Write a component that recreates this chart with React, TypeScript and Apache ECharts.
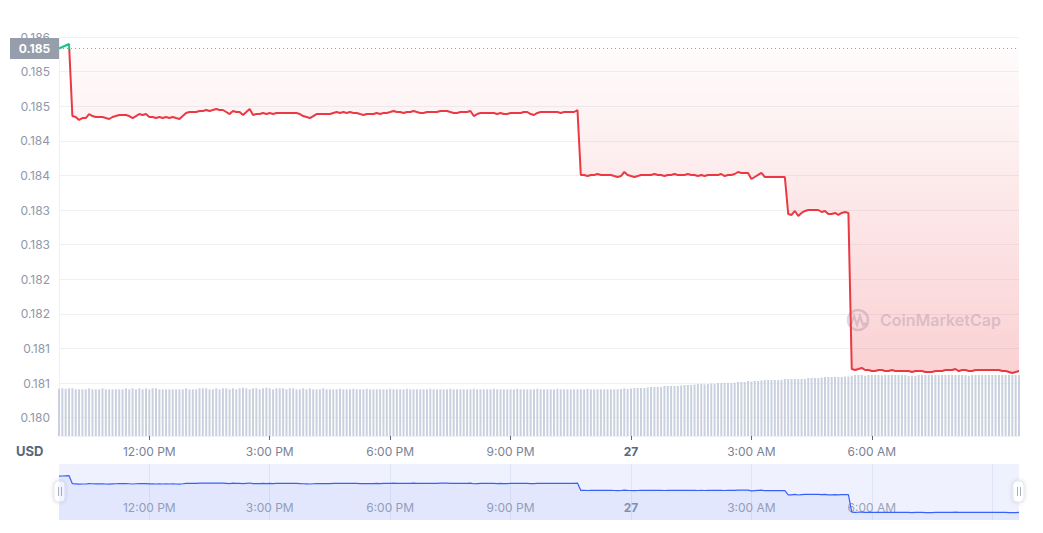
import React, { useEffect, useRef } from "react";
import * as echarts from "echarts";

// ---- time categories (5-minute steps, 24h window starting 9:45 AM) ----
const START_MINUTES = 9 * 60 + 45;
const STEP_MINUTES = 5;
const POINT_COUNT = 288;
const categories: string[] = [];
for (let i = 0; i < POINT_COUNT; i++) {
  const m = (START_MINUTES + i * STEP_MINUTES) % (24 * 60);
  const h24 = Math.floor(m / 60);
  const mm = m % 60;
  const ap = h24 < 12 ? "AM" : "PM";
  const h12 = h24 % 12 === 0 ? 12 : h24 % 12;
  categories.push(`${h12}:${String(mm).padStart(2, "0")} ${ap}`);
}

// ---- x tick labels ----
const xTickIndex = [27, 63, 99, 135, 171, 207, 243];
const xTickLabels = ["12:00 PM", "3:00 PM", "6:00 PM", "9:00 PM", "27", "3:00 AM", "6:00 AM"];
const miniSplitIndex = [27, 63, 99, 135, 171, 207, 243, 279];

// ---- y tick labels ----
const yTickValues = [0.1805, 0.181, 0.1815, 0.182, 0.1825, 0.183, 0.1835, 0.184, 0.1845, 0.185, 0.1855, 0.186];
const yTickLabels = ["0.180", "0.181", "0.181", "0.182", "0.182", "0.183", "0.183", "0.184", "0.184", "0.185", "0.185", "0.186"];

const OPEN_PRICE = 0.185834;
const OPEN_LABEL = "0.185";

// ---- price (USD), 288 points ----
const pricesStart = [0.185834, 0.185855, 0.185877, 0.185899];
const pricesSegA = [
  0.184858, 0.184844, 0.184801, 0.184829, 0.184829, 0.184887, 0.184858, 0.184844, 0.184844, 0.184844,
  0.184829, 0.184815, 0.184844, 0.184858, 0.184873, 0.184873, 0.184873, 0.184858, 0.184829, 0.184858,
  0.184887, 0.184873, 0.184887, 0.184844, 0.184844, 0.184829, 0.184844, 0.184829, 0.184844, 0.184829,
  0.184844, 0.184829, 0.184815, 0.184858, 0.184902, 0.184916, 0.184916, 0.184916, 0.184931, 0.184931,
  0.184945, 0.184931, 0.184945, 0.18496, 0.184945, 0.184945, 0.184916, 0.184887, 0.184931, 0.184916,
  0.184916, 0.184873, 0.184916, 0.18496, 0.184873, 0.184887, 0.184887, 0.184902, 0.184887, 0.184902,
  0.184887, 0.184902, 0.184902, 0.184902, 0.184902, 0.184902, 0.184902, 0.184902, 0.184887, 0.184858,
  0.184844, 0.184829, 0.184858, 0.184887, 0.184887, 0.184887, 0.184887, 0.184887, 0.184902, 0.184916,
  0.184902, 0.184916, 0.184902, 0.184916, 0.184902, 0.184902, 0.184887, 0.184873, 0.184887, 0.184887,
  0.184887, 0.184902, 0.184887, 0.184902, 0.184902, 0.184916, 0.184931, 0.184916, 0.184916, 0.184902,
  0.184916, 0.184916, 0.184931, 0.184916, 0.184902, 0.184902, 0.184916, 0.184916, 0.184916, 0.184916,
  0.184931, 0.184931, 0.184931, 0.184916, 0.184902, 0.184902, 0.184916, 0.184916, 0.184916, 0.184931,
  0.184858, 0.184887, 0.184902, 0.184902, 0.184902, 0.184902, 0.184902, 0.184887, 0.184902, 0.184887,
  0.184887, 0.184902, 0.184902, 0.184902, 0.184902, 0.184916, 0.184916, 0.184887, 0.184873, 0.184902,
  0.184916, 0.184916, 0.184916, 0.184916, 0.184916, 0.184916, 0.184902, 0.184916, 0.184916, 0.184916,
  0.184916, 0.184945,
];
const pricesSegB = [
  0.184006, 0.184006, 0.183991, 0.184006, 0.184006, 0.18402, 0.184006, 0.184006, 0.184006, 0.184006,
  0.183991, 0.183977, 0.183991, 0.184049, 0.184006, 0.183991, 0.183977, 0.183991, 0.184006, 0.184006,
  0.184006, 0.184006, 0.18402, 0.184006, 0.184006, 0.183991, 0.184006, 0.184006, 0.18402, 0.184006,
  0.184006, 0.184006, 0.18402, 0.184006, 0.184006, 0.183991, 0.184006, 0.183991, 0.184006, 0.184006,
  0.184006, 0.184006, 0.18402, 0.183991, 0.184006, 0.184006, 0.18402, 0.184049, 0.184035, 0.184035,
  0.184035, 0.183948, 0.183977, 0.184006, 0.184035, 0.183977, 0.183977, 0.183977, 0.183977, 0.183977,
  0.183977, 0.183977,
];
const pricesSegC = [
  0.183442, 0.183428, 0.183486, 0.183413, 0.183457, 0.183486, 0.1835, 0.1835, 0.1835, 0.1835,
  0.183471, 0.183486, 0.183442, 0.183442, 0.183457, 0.183428, 0.183457, 0.183471, 0.183457,
];
const pricesSegD = [
  0.181202, 0.181188, 0.181202, 0.181217, 0.181188, 0.181188, 0.181173, 0.181173, 0.181188, 0.181188,
  0.181173, 0.181173, 0.181188, 0.181173, 0.181173, 0.181173, 0.181173, 0.181173, 0.181159, 0.181173,
  0.181173, 0.181173, 0.181159, 0.181159, 0.181159, 0.181173, 0.181173, 0.181173, 0.181188, 0.181188,
  0.181188, 0.181202, 0.181173, 0.181188, 0.181188, 0.181173, 0.181173, 0.181188, 0.181188, 0.181188,
  0.181188, 0.181188, 0.181188, 0.181188, 0.181188, 0.181173, 0.181173, 0.181159, 0.181144, 0.181159,
  0.181173,
];
const prices = [...pricesStart, ...pricesSegA, ...pricesSegB, ...pricesSegC, ...pricesSegD];

// ---- volume (relative units), 288 bars ----
const volumesA = [
  47.2, 47.7, 47.2, 47.7, 47.7, 46.7, 46.7, 46.7, 46.7, 47.7, 46.7, 46.7, 46.7, 47.7, 46.7, 46.7,
  46.7, 46.7, 46.7, 46.7, 47.7, 46.7, 47.7, 46.7, 47.7, 46.7, 47.7, 46.7, 47.7, 47.7, 46.7, 46.7,
  46.7, 46.7, 46.7, 46.7, 46.7, 46.7, 47.7, 46.7, 46.7, 46.7, 47.7, 47.7, 47.7, 46.7, 46.7,
];
const volumesB = [
  47.7, 46.7, 47.7, 47.7, 46.7, 47.7, 46.7, 47.7, 48.2, 47.7,
  46.7, 47.7, 47.7, 46.7, 47.7, 48.2, 47.7, 46.7, 47.7, 47.7,
  47.7, 46.7, 47.7, 47.7, 46.7, 46.7, 47.7, 46.7, 47.7, 46.7,
  46.7, 46.7, 47.7, 46.7, 46.7, 46.7, 46.7, 47.2, 46.7, 46.7,
  46.7, 47.2, 46.7, 46.7, 46.7, 47.2, 46.7, 46.7, 46.7, 46.7,
  46.7, 46.7, 47.2, 46.7, 46.7, 46.7, 46.7, 47.2, 46.7, 46.7,
  46.7, 46.7, 46.7, 46.7, 47.2, 46.7, 46.7, 46.7, 46.7, 46.7,
  47.2, 46.7, 46.7, 46.7, 46.7, 46.7, 46.7, 47.2, 46.7, 46.7,
  46.7, 46.7, 46.7, 47.2, 46.7, 46.7, 46.7, 46.7, 46.7, 46.7,
  47.2, 46.7, 46.7, 46.7, 46.7, 46.7, 47.2, 46.7, 46.7, 46.7,
  46.7, 46.7, 47.2, 46.7, 46.7, 46.7, 46.7, 46.7, 46.7,
];
const volumesC = [46.7, 46.7, 47.2, 46.7, 46.7, 46.7, 46.7, 46.7, 46.7, 46.7, 46.7, 46.7];
const volumesD = [
  47, 47.7, 47, 47.5, 48, 48, 48, 48, 48.5, 49, 49, 49, 49, 50, 50, 50, 50, 50, 50.5, 51,
  51, 51, 51.5, 52, 52, 51.7, 52, 52.5, 52.3, 53, 53, 53, 53, 53, 53.3, 54, 54, 54, 55, 54.5,
  55, 55, 55.5, 56, 56, 56, 56, 56, 56.3, 57, 57, 57, 57, 57, 57, 57, 58, 58, 58, 58,
  58.5, 59, 59, 59, 59, 59, 59, 59.3, 59.5, 60.3, 61,
];
const volumesE = [
  61, 61, 60.3, 61, 61, 61, 61, 60.7, 61, 61,
  61, 61, 61, 61, 61, 60.3, 60.3, 60.3, 61, 61,
  61, 61, 61, 61, 61, 61, 61, 61, 61, 61,
  61, 61, 61, 60.3, 61, 61, 61, 61, 61, 61,
  61, 61, 61, 61, 61, 61, 61, 61, 61,
];
const volumes = [...volumesA, ...volumesB, ...volumesC, ...volumesD, ...volumesE];

const FONT = "Inter, Roboto, sans-serif";

export default function App() {
  const ref = useRef<HTMLDivElement>(null);

  useEffect(() => {
    document.body.style.margin = "0";
    if (!ref.current) return;
    const chart = echarts.init(ref.current, undefined, { renderer: "svg" });

    const xFormatter = (_v: string, i: number) => {
      const k = xTickIndex.indexOf(i);
      if (k < 0) return "";
      const t = xTickLabels[k];
      return t === "27" ? "{b|27}" : t;
    };
    const yFormatter = (v: number) => {
      const k = yTickValues.findIndex((t) => Math.abs(t - v) < 1e-7);
      return k >= 0 ? yTickLabels[k] : "";
    };

    const option: any = {
      animation: false,
      textStyle: { fontFamily: FONT },
      grid: [
        { left: 59, right: 24, top: 37, height: 399 },
        { left: 59, right: 24, top: 464, height: 56, show: true, backgroundColor: "#eff2fe", borderWidth: 0 },
        // label / gridline grid: spans 0.1805 .. 0.186 with the same scale as grid 0
        { left: 59, right: 24, top: 37, height: 380.6 },
      ],
      xAxis: [
        {
          type: "category",
          gridIndex: 0,
          data: categories,
          boundaryGap: false,
          axisLine: { show: true, lineStyle: { color: "#eff2f5" } },
          axisTick: {
            show: true,
            interval: (i: number) => xTickIndex.includes(i),
            length: 4,
            lineStyle: { color: "#58667e" },
          },
          axisLabel: {
            interval: (i: number) => xTickIndex.includes(i),
            formatter: xFormatter,
            color: "#7a8296",
            fontSize: 12,
            fontFamily: FONT,
            margin: 9,
            rich: { b: { fontWeight: "bold", color: "#58667e", fontSize: 12, fontFamily: FONT } },
          },
          splitLine: { show: false },
        },
        {
          type: "category",
          gridIndex: 1,
          data: categories,
          boundaryGap: false,
          axisLine: { show: false },
          axisTick: { show: false },
          axisLabel: {
            inside: true,
            interval: (i: number) => xTickIndex.includes(i),
            formatter: xFormatter,
            color: "#9aa2b5",
            fontSize: 12,
            fontFamily: FONT,
            margin: 7,
            rich: { b: { fontWeight: "bold", color: "#8a93a8", fontSize: 12, fontFamily: FONT } },
          },
          splitLine: {
            show: true,
            interval: (i: number) => miniSplitIndex.includes(i),
            lineStyle: { color: "#dfe4f6" },
          },
        },
        { type: "value", gridIndex: 2, show: false, min: 0, max: 1 },
      ],
      yAxis: [
        {
          type: "value",
          gridIndex: 0,
          min: 0.180234,
          max: 0.186,
          axisLine: { show: true, lineStyle: { color: "#eff2f5" } },
          axisTick: { show: false },
          axisLabel: { show: false },
          splitLine: { show: false },
        },
        { type: "value", gridIndex: 0, min: 0, max: 399, show: false },
        { type: "value", gridIndex: 1, min: 0.1802, max: 0.1874, show: false },
        {
          type: "value",
          gridIndex: 2,
          min: 0.1805,
          max: 0.186,
          interval: 0.0005,
          axisLine: { show: false },
          axisTick: { show: false },
          axisLabel: {
            formatter: yFormatter,
            color: "#8f97aa",
            fontSize: 12,
            fontFamily: FONT,
            margin: 9,
          },
          splitLine: { show: true, lineStyle: { color: "#eff2f5" } },
        },
      ],
      visualMap: {
        type: "piecewise",
        show: false,
        seriesIndex: 0,
        pieces: [
          { gte: 0.17, lt: OPEN_PRICE, color: "#ea3943" },
          { gte: OPEN_PRICE, lte: 0.19, color: "#16c784" },
        ],
      },
      series: [
        {
          type: "line",
          name: "Price",
          xAxisIndex: 0,
          yAxisIndex: 0,
          data: prices,
          symbol: "none",
          showSymbol: false,
          z: 3,
          lineStyle: { width: 2 },
          areaStyle: {
            origin: OPEN_PRICE,
            color: new echarts.graphic.LinearGradient(0, 0, 0, 1, [
              { offset: 0, color: "rgba(234,57,67,0.02)" },
              { offset: 1, color: "rgba(234,57,67,0.33)" },
            ]),
          },
        },
        {
          type: "bar",
          name: "Volume",
          xAxisIndex: 0,
          yAxisIndex: 1,
          data: volumes,
          barWidth: 2,
          z: 1,
          silent: true,
          itemStyle: { color: "#cad1de" },
        },
        {
          type: "line",
          name: "Overview",
          xAxisIndex: 1,
          yAxisIndex: 2,
          data: prices,
          symbol: "none",
          showSymbol: false,
          silent: true,
          lineStyle: { color: "#3861fb", width: 1.2 },
          areaStyle: { color: "rgba(56,97,251,0.1)", origin: "start" },
        },
      ],
    };

    chart.setOption(option);

    // opening-price reference line, positioned through the chart's own scales
    const p0 = chart.convertToPixel({ xAxisIndex: 0, yAxisIndex: 0 }, [0, OPEN_PRICE]) as number[];
    const p1 = chart.convertToPixel({ xAxisIndex: 0, yAxisIndex: 0 }, [POINT_COUNT - 1, OPEN_PRICE]) as number[];
    const ly = Math.round(p0[1]) + 0.5;

    chart.setOption({
      graphic: [
        {
          type: "line",
          silent: true,
          z: 5,
          shape: { x1: p0[0], y1: ly, x2: p1[0], y2: ly },
          style: { stroke: "#959cab", lineWidth: 1, lineDash: [1, 3] },
        },
        {
          type: "rect",
          silent: true,
          z: 6,
          shape: { x: p0[0] - 49, y: ly - 10.5, width: 49, height: 21 },
          style: { fill: "#969dab" },
        },
        {
          type: "text",
          silent: true,
          z: 7,
          x: p0[0] - 24.5,
          y: ly,
          style: {
            text: OPEN_LABEL,
            fill: "#ffffff",
            fontSize: 12,
            fontWeight: "bold",
            fontFamily: FONT,
            align: "center",
            verticalAlign: "middle",
          },
        },
        {
          type: "text",
          x: 16,
          y: 451,
          style: { text: "USD", fontSize: 13, fontWeight: "bold", fontFamily: FONT, fill: "#58667e", verticalAlign: "middle" },
        },
        {
          type: "group",
          silent: true,
          children: [
            {
              type: "circle",
              shape: { cx: 858, cy: 320, r: 10 },
              style: { fill: "none", stroke: "rgba(165,176,198,0.45)", lineWidth: 2.5 },
            },
            {
              type: "polyline",
              shape: { points: [[851, 325], [854, 316], [857, 325], [860, 316], [863, 325], [866, 323]] },
              style: { fill: "none", stroke: "rgba(165,176,198,0.45)", lineWidth: 2.2 },
            },
            {
              type: "text",
              x: 880,
              y: 320,
              style: {
                text: "CoinMarketCap",
                fontSize: 16,
                fontWeight: 600,
                fontFamily: FONT,
                fill: "rgba(165,176,198,0.45)",
                verticalAlign: "middle",
              },
            },
          ],
        },
        {
          type: "group",
          children: [
            {
              type: "rect",
              shape: { x: 54, y: 481, width: 11, height: 21, r: 4 },
              style: { fill: "#ffffff", stroke: "#e3e6ee", lineWidth: 1, shadowBlur: 4, shadowColor: "rgba(0,0,0,0.15)" },
            },
            { type: "line", shape: { x1: 58.5, y1: 487, x2: 58.5, y2: 496 }, style: { stroke: "#a6b0c3", lineWidth: 1 } },
            { type: "line", shape: { x1: 61.5, y1: 487, x2: 61.5, y2: 496 }, style: { stroke: "#a6b0c3", lineWidth: 1 } },
            {
              type: "rect",
              shape: { x: 1013, y: 481, width: 11, height: 21, r: 4 },
              style: { fill: "#ffffff", stroke: "#e3e6ee", lineWidth: 1, shadowBlur: 4, shadowColor: "rgba(0,0,0,0.15)" },
            },
            { type: "line", shape: { x1: 1017.5, y1: 487, x2: 1017.5, y2: 496 }, style: { stroke: "#a6b0c3", lineWidth: 1 } },
            { type: "line", shape: { x1: 1020.5, y1: 487, x2: 1020.5, y2: 496 }, style: { stroke: "#a6b0c3", lineWidth: 1 } },
          ],
        },
      ],
    });

    return () => chart.dispose();
  }, []);

  return <div ref={ref} style={{ width: 1043, height: 533 }} />;
}
